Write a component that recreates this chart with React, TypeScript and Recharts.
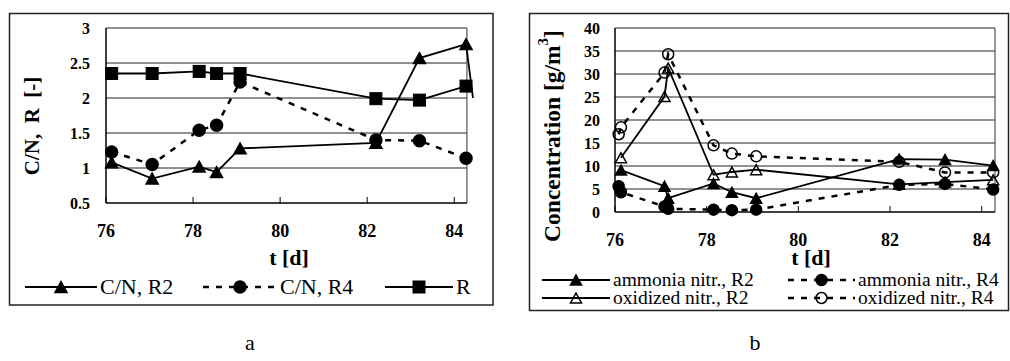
import React from 'react';
import { LineChart, Line, XAxis, YAxis, ReferenceLine } from 'recharts';

const FONT = "'Liberation Serif', 'Times New Roman', serif";

// --- chart a: C/N and R ---
const aDays = [76.13, 77.06, 78.14, 78.54, 79.08, 82.2, 83.2, 84.27];
const cnR2Days = [76.13, 77.06, 78.14, 78.54, 79.08, 82.2, 83.2, 84.27, 84.43];
const cnR2 = [1.08, 0.85, 1.02, 0.94, 1.28, 1.36, 2.57, 2.77, 2.0];
const cnR4 = [1.23, 1.05, 1.54, 1.61, 2.23, 1.4, 1.39, 1.14];
const rValues = [2.35, 2.35, 2.38, 2.35, 2.35, 1.99, 1.97, 2.17];
const aTicksX = [76, 78, 80, 82, 84];
const aTicksY = [0.5, 1, 1.5, 2, 2.5, 3];
const A_EDGE = 84.29;

// --- chart b: nitrogen concentrations ---
const ammR2Days = [76.13, 77.08, 77.16, 78.15, 78.55, 79.08, 82.2, 83.2, 84.25];
const ammR2 = [9.1, 5.6, 3.0, 6.2, 4.3, 3.0, 11.5, 11.4, 10.1];
const oxR2Days = [76.13, 77.08, 77.16, 78.15, 78.55, 79.08, 82.2, 83.2, 84.25];
const oxR2 = [11.8, 25.1, 31.3, 8.1, 8.7, 9.2, 6.0, 6.5, 7.0];
const r4Days = [76.08, 76.13, 77.08, 77.16, 78.15, 78.55, 79.08, 82.2, 83.2, 84.25];
const ammR4 = [5.6, 4.3, 1.2, 0.7, 0.5, 0.4, 0.5, 5.9, 6.1, 4.9];
const oxR4 = [16.9, 18.4, 30.3, 34.3, 14.5, 12.7, 12.1, 10.9, 8.6, 8.6];
const bTicksX = [76, 78, 80, 82, 84];
const bTicksY = [0, 5, 10, 15, 20, 25, 30, 35, 40];
const B_EDGE = 84.29;

const zip = (ts: number[], vs: number[]) => ts.map((t, i) => ({ t, v: vs[i] }));

type Shape = 'triangle' | 'circle' | 'square';

function marker(shape: Shape, filled: boolean, cx: number, cy: number, s: number, key?: any) {
  const fill = filled ? '#000' : 'none';
  if (shape === 'circle')
    return <circle key={key} cx={cx} cy={cy} r={s / 2} fill={fill} stroke="#000" strokeWidth={1.5} />;
  if (shape === 'square')
    return <rect key={key} x={cx - s / 2} y={cy - s / 2} width={s} height={s} fill={fill} stroke="#000" strokeWidth={1} />;
  const h = s * 0.9;
  return (
    <polygon
      key={key}
      points={`${cx},${cy - h / 2} ${cx + s / 2},${cy + h / 2} ${cx - s / 2},${cy + h / 2}`}
      fill={fill}
      stroke="#000"
      strokeWidth={1.5}
    />
  );
}

const makeDot = (shape: Shape, filled: boolean, s: number, edge: number) => (props: any) => {
  const { cx, cy, payload, index } = props;
  if (cx == null || cy == null || payload.t > edge) return <g key={`e${index}`} />;
  return marker(shape, filled, cx, cy, s, `m${index}`);
};

const XTick = (props: any) => {
  const { x, y, payload } = props;
  return (
    <g>
      <line x1={x} y1={y} x2={x} y2={y - 6} stroke="#000" strokeWidth={1} />
      <text x={x} y={y + 34} textAnchor="middle" fontFamily={FONT} fontWeight="bold" fontSize={18} fill="#000">
        {payload.value}
      </text>
    </g>
  );
};

const yTickStyle = { fontFamily: FONT, fontWeight: 'bold', fontSize: 16, fill: '#000' };

function frame(ticksY: number[], x0: number, edge: number) {
  const y0 = ticksY[0];
  const y1 = ticksY[ticksY.length - 1];
  return [
    ...ticksY.slice(1).map((y) => (
      <ReferenceLine key={`g${y}`} segment={[{ x: x0, y }, { x: edge, y }]} stroke="#222" strokeWidth={1} />
    )),
    <ReferenceLine key="rb" segment={[{ x: edge, y: y0 }, { x: edge, y: y1 }]} stroke="#555" strokeWidth={1.2} />,
    <ReferenceLine key="xb" segment={[{ x: x0, y: y0 }, { x: edge, y: y0 }]} stroke="#000" strokeWidth={1.5} />,
  ];
}

function ChartA() {
  return (
    <LineChart width={484} height={292} margin={{ top: 15, right: 20, left: 0, bottom: 62 }}>
      <XAxis
        dataKey="t"
        type="number"
        domain={[76, 84.43]}
        ticks={aTicksX}
        interval={0}
        axisLine={false}
        tickLine={false}
        tickSize={0}
        tickMargin={0}
        height={40}
        tick={<XTick />}
      />
      <YAxis
        type="number"
        domain={[0.5, 3]}
        ticks={aTicksY}
        interval={0}
        width={97}
        axisLine={{ stroke: '#000', strokeWidth: 1.5 }}
        tickLine={false}
        tickSize={0}
        tickMargin={16}
        tick={yTickStyle}
      />
      {frame(aTicksY, 76, A_EDGE)}
      <Line data={zip(aDays, cnR4)} dataKey="v" stroke="#000" strokeWidth={2.5} strokeDasharray="6 7"
        dot={makeDot('circle', true, 12, A_EDGE)} activeDot={false} isAnimationActive={false} />
      <Line data={zip(cnR2Days, cnR2)} dataKey="v" stroke="#000" strokeWidth={1.8}
        dot={makeDot('triangle', true, 12, A_EDGE)} activeDot={false} isAnimationActive={false} />
      <Line data={zip(aDays, rValues)} dataKey="v" stroke="#000" strokeWidth={1.8}
        dot={makeDot('square', true, 12, A_EDGE)} activeDot={false} isAnimationActive={false} />
    </LineChart>
  );
}

function ChartB() {
  return (
    <LineChart width={480} height={297} margin={{ top: 15, right: 14, left: 0, bottom: 58 }}>
      <XAxis
        dataKey="t"
        type="number"
        domain={[76, B_EDGE]}
        ticks={bTicksX}
        interval={0}
        axisLine={false}
        tickLine={false}
        tickSize={0}
        tickMargin={0}
        height={40}
        tick={<XTick />}
      />
      <YAxis
        type="number"
        domain={[0, 40]}
        ticks={bTicksY}
        interval={0}
        width={86}
        axisLine={{ stroke: '#000', strokeWidth: 1.5 }}
        tickLine={false}
        tickSize={0}
        tickMargin={15}
        tick={yTickStyle}
      />
      {frame(bTicksY, 76, B_EDGE)}
      <Line data={zip(r4Days, oxR4)} dataKey="v" stroke="#000" strokeWidth={2.5} strokeDasharray="6 7"
        dot={makeDot('circle', false, 11, B_EDGE)} activeDot={false} isAnimationActive={false} />
      <Line data={zip(r4Days, ammR4)} dataKey="v" stroke="#000" strokeWidth={2.5} strokeDasharray="6 7"
        dot={makeDot('circle', true, 11, B_EDGE)} activeDot={false} isAnimationActive={false} />
      <Line data={zip(oxR2Days, oxR2)} dataKey="v" stroke="#000" strokeWidth={1.8}
        dot={makeDot('triangle', false, 11, B_EDGE)} activeDot={false} isAnimationActive={false} />
      <Line data={zip(ammR2Days, ammR2)} dataKey="v" stroke="#000" strokeWidth={1.8}
        dot={makeDot('triangle', true, 11, B_EDGE)} activeDot={false} isAnimationActive={false} />
    </LineChart>
  );
}

function LegendItem({ x1, x2, y, dashed, shape, filled, s, label, fontSize }: any) {
  const cx = (x1 + x2) / 2;
  return (
    <g>
      <line x1={x1} y1={y} x2={x2} y2={y} stroke="#000" strokeWidth={dashed ? 2.5 : 1.8} strokeDasharray={dashed ? '6 7' : undefined} />
      {marker(shape, filled, cx, y, s)}
      <text x={x2 + 3} y={y + fontSize * 0.33} fontFamily={FONT} fontSize={fontSize} fill="#000">{label}</text>
    </g>
  );
}

export default function App() {
  return (
    <div style={{ position: 'fixed', left: 0, top: 0, width: 1010, height: 361, background: '#fff' }}>
      <div style={{ position: 'absolute', left: 9, top: 13 }}>
        <ChartA />
      </div>
      <div style={{ position: 'absolute', left: 529, top: 13 }}>
        <ChartB />
      </div>
      <svg width={1010} height={361} style={{ position: 'absolute', left: 0, top: 0, pointerEvents: 'none' }}>
        <rect x={9.5} y={13.5} width={483.5} height={291.5} fill="none" stroke="#222" strokeWidth={1.5} />
        <rect x={529.5} y={13.5} width={479} height={297} fill="none" stroke="#222" strokeWidth={1.5} />

        <text transform="translate(32,126) rotate(-90)" textAnchor="middle" dominantBaseline="central"
          fontFamily={FONT} fontWeight="bold" fontSize={21} fill="#000" xmlSpace="preserve">
          {'C/N,  R  [-]'}
        </text>
        <text x={289} y={265} textAnchor="middle" fontFamily={FONT} fontWeight="bold" fontSize={22} fill="#000">t [d]</text>

        <text transform="translate(552,136) rotate(-90)" textAnchor="middle" dominantBaseline="central"
          fontFamily={FONT} fontWeight="bold" fontSize={23.5} fill="#000">
          Concentration [g/m<tspan dy={-9} fontSize={15}>3</tspan><tspan dy={9}>]</tspan>
        </text>
        <text x={811} y={265} textAnchor="middle" fontFamily={FONT} fontWeight="bold" fontSize={22} fill="#000">t [d]</text>

        <LegendItem x1={25} x2={97} y={287} shape="triangle" filled s={12} label="C/N, R2" fontSize={22} />
        <LegendItem x1={203} x2={277} y={287} dashed shape="circle" filled s={12} label="C/N, R4" fontSize={22} />
        <LegendItem x1={385} x2={453} y={287} shape="square" filled s={12} label="R" fontSize={22} />

        <LegendItem x1={542} x2={610} y={280} shape="triangle" filled s={11} label="ammonia nitr., R2" fontSize={19.5} />
        <LegendItem x1={788} x2={855} y={280} dashed shape="circle" filled s={11} label="ammonia nitr., R4" fontSize={19.5} />
        <LegendItem x1={542} x2={610} y={298} shape="triangle" filled={false} s={11} label="oxidized nitr., R2" fontSize={19.5} />
        <LegendItem x1={788} x2={855} y={298} dashed shape="circle" filled={false} s={11} label="oxidized nitr., R4" fontSize={19.5} />

        <text x={250} y={350} textAnchor="middle" fontFamily={FONT} fontSize={22} fill="#000">a</text>
        <text x={755} y={350} textAnchor="middle" fontFamily={FONT} fontSize={22} fill="#000">b</text>
      </svg>
    </div>
  );
}
